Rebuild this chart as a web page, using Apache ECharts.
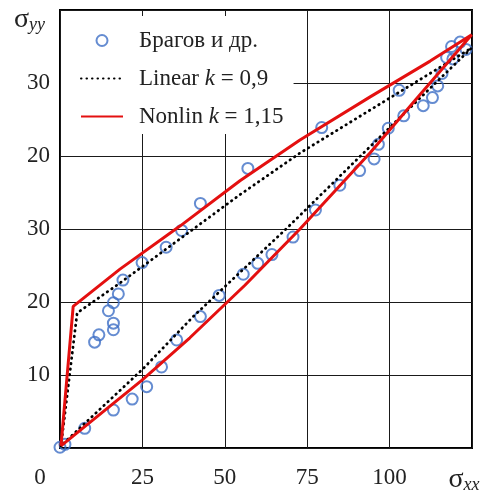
<!DOCTYPE html>
<html>
<head>
<meta charset="utf-8">
<script src="https://cdn.jsdelivr.net/npm/echarts@6/dist/echarts.min.js"></script>
<style>
  html, body { margin: 0; padding: 0; background: #fff; }
  #chart { width: 486px; height: 497px; }
</style>
</head>
<body>
<div id="chart"></div>
<script>
  // точки "Брагов и др."
  const braggX = [0.0, 1.5, 7.5, 16.2, 21.9, 26.3, 30.8, 35.4, 42.6, 48.3, 55.6, 60.0, 64.3, 70.7,
    77.5, 84.9, 90.9, 95.3, 96.6, 99.6, 104.3, 110.2, 113.0, 114.6, 115.9, 117.3, 119.2, 118.8, 121.4, 123.2,
    10.5, 11.8, 16.2, 16.2, 14.7, 16.2, 17.7, 19.1, 24.9, 32.2, 36.9, 42.6, 57.0, 79.4, 102.9];
  const braggY = [0.1, 0.5, 2.7, 5.2, 6.7, 8.4, 11.1, 14.8, 18.0, 20.9, 23.8, 25.3, 26.5, 28.9,
    32.6, 36.0, 38.0, 39.6, 41.6, 43.8, 45.5, 46.9, 48.0, 49.6, 51.3, 53.5, 53.3, 55.0, 55.6, 54.6,
    14.5, 15.5, 16.2, 17.1, 18.8, 19.9, 21.1, 23.0, 25.4, 27.5, 29.8, 33.5, 38.3, 43.9, 49.0];

  // Linear k = 0,9 (верхняя ветвь, затем нижняя обратно)
  const linearX = [0.3, 5.2, 18.2, 54.6, 72.8, 94.1, 124.9, 94.1, 68.8, 40.4, 25.3, 0.3];
  const linearY = [0.3, 18.5, 22.6, 34.7, 40.4, 46.3, 54.8, 41.3, 30.1, 18.0, 10.9, 0.3];

  // Nonlin k = 1,15
  const nonlinX = [0.3, 4.0, 18.2, 36.4, 54.6, 72.8, 94.1, 112.3, 124.9, 109.2, 94.1, 72.8, 56.1, 39.4, 24.8, 0.3];
  const nonlinY = [0.3, 19.4, 24.5, 30.4, 36.6, 42.2, 48.1, 53.0, 56.6, 48.4, 40.45, 30.0, 22.3, 15.1, 9.26, 0.3];

  // подписи осей (значение -> текст)
  const xTicks = { 0: '{z|0}', 25: '25', 50: '50', 75: '75', 100: '100', 125: '{s|σ}{sub|xx}' };
  const yTicks = { 0: '', 10: '10', 20: '20', 30: '30', 40: '20', 50: '30', 60: '' };

  const FONT = 'Liberation Serif';
  const zip = (xs, ys) => xs.map((x, i) => [x, ys[i]]);

  const chart = echarts.init(document.getElementById('chart'), null, { renderer: 'canvas' });

  const sigmaRich = {
    s: { fontFamily: FONT, fontSize: 28, color: '#222', lineHeight: 28 },
    sub: { fontFamily: FONT, fontSize: 18, fontStyle: 'italic', color: '#222', verticalAlign: 'bottom', lineHeight: 18, padding: [0, 16, 0, 0] },
    z: { fontFamily: FONT, fontSize: 23, color: '#222', padding: [0, 40, 0, 0] }
  };

  chart.setOption({
    animation: false,
    backgroundColor: '#fff',
    grid: {
      left: 60, right: 14, top: 10, bottom: 49,
      outerBoundsMode: 'none',
      containLabel: false,
      show: true, borderColor: '#000', borderWidth: 2, backgroundColor: 'transparent'
    },
    legend: {
      orient: 'vertical',
      left: 61, top: 16,
      padding: [13, 10, 6, 19],
      backgroundColor: '#fff',
      itemWidth: 42, itemHeight: 11, itemGap: 15,
      data: [
        { name: 'bragov' },
        { name: 'linear', itemStyle: { opacity: 0 } },
        { name: 'nonlin', itemStyle: { opacity: 0 } }
      ],
      formatter: function (name) {
        if (name === 'bragov') return '{n|Брагов и др.}';
        if (name === 'linear') return '{n|Linear }{i|k}{n| = 0,9}';
        return '{n|Nonlin }{i|k}{n| = 1,15}';
      },
      textStyle: {
        padding: [0, 0, 0, 11],
        rich: {
          n: { fontFamily: FONT, fontSize: 23, color: '#222', lineHeight: 23 },
          i: { fontFamily: FONT, fontSize: 23, fontStyle: 'italic', color: '#222', lineHeight: 23 }
        }
      }
    },
    xAxis: {
      type: 'value', min: 0, max: 125, interval: 25,
      axisLine: { show: false }, axisTick: { show: false },
      splitLine: { show: true, lineStyle: { color: '#1a1a1a', width: 1 } },
      axisLabel: {
        margin: 18, fontFamily: FONT, fontSize: 23, color: '#222',
        showMinLabel: true, showMaxLabel: true,
        formatter: v => xTicks[v] !== undefined ? xTicks[v] : '',
        rich: sigmaRich
      }
    },
    yAxis: {
      type: 'value', min: 0, max: 60, interval: 10,
      name: '{s|σ}{sub|yy}',
      nameLocation: 'end',
      nameGap: -24,
      nameTextStyle: {
        align: 'right',
        padding: [0, 15, 0, 0],
        rich: {
          s: { fontFamily: FONT, fontSize: 28, color: '#222', lineHeight: 28 },
          sub: { fontFamily: FONT, fontSize: 18, fontStyle: 'italic', color: '#222', verticalAlign: 'bottom', lineHeight: 18 }
        }
      },
      axisLine: { show: false }, axisTick: { show: false },
      splitLine: { show: true, lineStyle: { color: '#1a1a1a', width: 1 } },
      axisLabel: {
        margin: 10, fontFamily: FONT, fontSize: 23, color: '#222',
        formatter: v => yTicks[v] !== undefined ? yTicks[v] : ''
      }
    },
    series: [
      {
        name: 'bragov', type: 'scatter',
        data: zip(braggX, braggY),
        symbol: 'circle', symbolSize: 11,
        itemStyle: { color: 'rgba(255,255,255,0)', borderColor: '#3f6fc6', borderWidth: 2 },
        z: 2
      },
      {
        name: 'linear', type: 'line',
        data: zip(linearX, linearY),
        symbol: 'none',
        lineStyle: { color: '#000', width: 2.8, type: [0.5, 5], cap: 'round' },
        z: 3
      },
      {
        name: 'nonlin', type: 'line',
        data: zip(nonlinX, nonlinY),
        symbol: 'none',
        lineStyle: { color: '#e41010', width: 3 },
        z: 4
      }
    ]
  });
</script>
</body>
</html>
